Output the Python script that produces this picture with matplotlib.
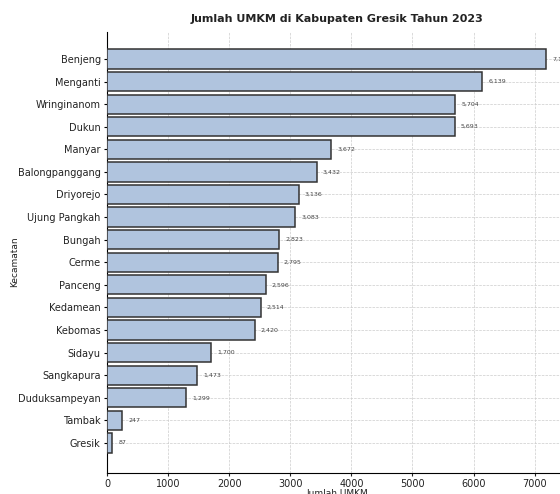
import matplotlib
matplotlib.use("Agg")
import matplotlib.pyplot as plt

kecamatan = ["Benjeng", "Menganti", "Wringinanom", "Dukun", "Manyar", "Balongpanggang",
             "Driyorejo", "Ujung Pangkah", "Bungah", "Cerme", "Panceng", "Kedamean",
             "Kebomas", "Sidayu", "Sangkapura", "Duduksampeyan", "Tambak", "Gresik"]
jumlah = [7184, 6139, 5704, 5693, 3672, 3432, 3136, 3083, 2823, 2795, 2596, 2514,
          2420, 1700, 1473, 1299, 247, 87]

fig = plt.figure(figsize=(5.6, 4.94), dpi=100)
# axes run past the right edge, like the cropped original
ax = fig.add_axes([0.191, 0.0425, 0.823, 0.893])

n = len(kecamatan)
pos = list(range(n - 1, -1, -1))
ax.barh(pos, jumlah, height=0.85, color="lightsteelblue", edgecolor="#333333", linewidth=1.1, zorder=3)

for p, v in zip(pos, jumlah):
    ax.text(v + 100, p, f"{v:,}", va="center", ha="left", fontsize=4.5, color="#444444")

ax.set_yticks(pos)
ax.set_yticklabels(kecamatan, fontsize=7, color="#222222")
ax.set_ylim(-1.33, n - 1 + 1.2)
ax.set_xlim(0, 7543)
ax.set_xticks(range(0, 8000, 1000))
ax.tick_params(axis="x", labelsize=7, colors="#222222", length=2.5, pad=2)
ax.tick_params(axis="y", length=2.5, pad=2)

ax.grid(True, linestyle="--", linewidth=0.5, color="#cccccc", zorder=0)
ax.spines["top"].set_visible(False)
ax.spines["right"].set_visible(False)

ax.set_title("Jumlah UMKM di Kabupaten Gresik Tahun 2023", fontsize=8, fontweight="bold", color="#222222", pad=7)
ax.set_xlabel("Jumlah UMKM", fontsize=6.5, color="#222222")
ax.xaxis.set_label_coords(0.5, -0.036)
ax.set_ylabel("Kecamatan", fontsize=6.5, color="#222222")
ax.yaxis.set_label_coords(-0.191, 0.48)

fig.savefig("out.png", dpi=100)
